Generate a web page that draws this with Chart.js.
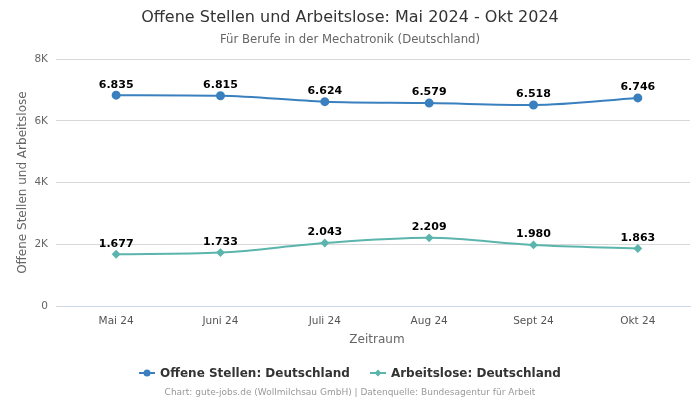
<!DOCTYPE html>
<html>
<head>
<meta charset="utf-8">
<script src="https://cdn.jsdelivr.net/npm/chart.js@4"></script>
<style>
    body { margin: 0; background: #fff; font-family: "DejaVu Sans", sans-serif; }
    #wrap { position: relative; width: 700px; height: 400px; }
    #legend {
        position: absolute; left: 0; top: 366px; width: 700px;
        display: flex; justify-content: center; gap: 20px;
        font: bold 12px "DejaVu Sans", sans-serif; color: #333;
    }
    .item { display: flex; align-items: center; }
    .item canvas { margin-right: 5px; }
    #footer {
        position: absolute; left: 0; top: 387px; width: 700px; text-align: center;
        font: 9px "DejaVu Sans", sans-serif; color: #999;
    }
</style>
</head>
<body>
<div id="wrap">
    <canvas id="chart" width="700" height="400"></canvas>
    <div id="legend"></div>
    <div id="footer">Chart: gute-jobs.de (Wollmilchsau GmbH) | Datenquelle: Bundesagentur für Arbeit</div>
</div>
<script>
// Data
const months = ['Mai 24', 'Juni 24', 'Juli 24', 'Aug 24', 'Sept 24', 'Okt 24'];
const offeneStellen = [6835, 6815, 6624, 6579, 6518, 6746];
const arbeitslose = [1677, 1733, 2043, 2209, 1980, 1863];
const yTicks = [0, 2000, 4000, 6000, 8000];

const blue = '#3a80bf';
const teal = '#5bb5ad';

const series = [
    { label: 'Offene Stellen: Deutschland', data: offeneStellen, color: blue, style: 'circle', radius: 3.5 },
    { label: 'Arbeitslose: Deutschland', data: arbeitslose, color: teal, style: 'rectRot', radius: 3 }
];

function fmt(v) {
    return v.toLocaleString('de-DE');
}

// Draw values above points
const valueLabels = {
    id: 'valueLabels',
    afterDatasetsDraw(chart) {
        const ctx = chart.ctx;
        ctx.save();
        ctx.font = 'bold 11px "DejaVu Sans", sans-serif';
        ctx.fillStyle = '#000';
        ctx.textAlign = 'center';
        ctx.textBaseline = 'bottom';
        chart.data.datasets.forEach((ds, i) => {
            chart.getDatasetMeta(i).data.forEach((pt, j) => {
                ctx.fillText(fmt(ds.data[j]), pt.x, pt.y - 5);
            });
        });
        ctx.restore();
    }
};

new Chart(document.getElementById('chart'), {
    type: 'line',
    data: {
        labels: months,
        datasets: series.map(s => ({
            label: s.label,
            data: s.data,
            borderColor: s.color,
            backgroundColor: s.color,
            borderWidth: 2,
            pointStyle: s.style,
            pointRadius: s.radius,
            pointHoverRadius: s.radius,
            cubicInterpolationMode: 'monotone',
            fill: false
        }))
    },
    options: {
        responsive: false,
        animation: false,
        layout: { padding: { left: 10, right: 10, top: 0, bottom: 53 } },
        plugins: {
            legend: { display: false },
            tooltip: { enabled: false },
            title: {
                display: true,
                text: 'Offene Stellen und Arbeitslose: Mai 2024 - Okt 2024',
                color: '#333',
                font: { family: 'DejaVu Sans', size: 16, weight: 'normal' },
                padding: { top: 8, bottom: 6 }
            },
            subtitle: {
                display: true,
                text: 'Für Berufe in der Mechatronik (Deutschland)',
                color: '#666',
                font: { family: 'DejaVu Sans', size: 11.7 },
                padding: { bottom: 12 }
            }
        },
        scales: {
            x: {
                offset: true,
                grid: { display: false, drawTicks: false },
                border: { display: true, color: '#ccd6eb' },
                ticks: { color: '#555', font: { family: 'DejaVu Sans', size: 10.5 }, padding: 9 },
                title: {
                    display: true,
                    text: 'Zeitraum',
                    color: '#666',
                    font: { family: 'DejaVu Sans', size: 12 },
                    padding: { top: -4, bottom: 0 }
                }
            },
            y: {
                min: 0,
                max: 8000,
                afterBuildTicks: axis => { axis.ticks = yTicks.map(v => ({ value: v })); },
                grid: { color: '#d8d8d8', tickLength: 8, tickColor: '#d8d8d8' },
                border: { display: false },
                ticks: {
                    color: '#666',
                    font: { family: 'DejaVu Sans', size: 10.5 },
                    padding: 8,
                    callback: v => v === 0 ? '0' : (v / 1000) + 'K'
                },
                title: {
                    display: true,
                    text: 'Offene Stellen und Arbeitslose',
                    color: '#666',
                    font: { family: 'DejaVu Sans', size: 12 },
                    padding: { top: 6, bottom: -4 }
                }
            }
        }
    },
    plugins: [valueLabels]
});

// HTML legend with line + marker
const legend = document.getElementById('legend');
series.forEach(s => {
    const item = document.createElement('div');
    item.className = 'item';
    const c = document.createElement('canvas');
    c.width = 16; c.height = 12;
    const g = c.getContext('2d');
    g.strokeStyle = s.color;
    g.lineWidth = 2;
    g.beginPath(); g.moveTo(0, 6); g.lineTo(16, 6); g.stroke();
    g.fillStyle = s.color;
    g.beginPath();
    if (s.style === 'circle') {
        g.arc(8, 6, 3.5, 0, Math.PI * 2);
    } else {
        g.moveTo(8, 2.5); g.lineTo(11.5, 6); g.lineTo(8, 9.5); g.lineTo(4.5, 6); g.closePath();
    }
    g.fill();
    item.appendChild(c);
    const span = document.createElement('span');
    span.textContent = s.label;
    item.appendChild(span);
    legend.appendChild(item);
});
</script>
</body>
</html>
